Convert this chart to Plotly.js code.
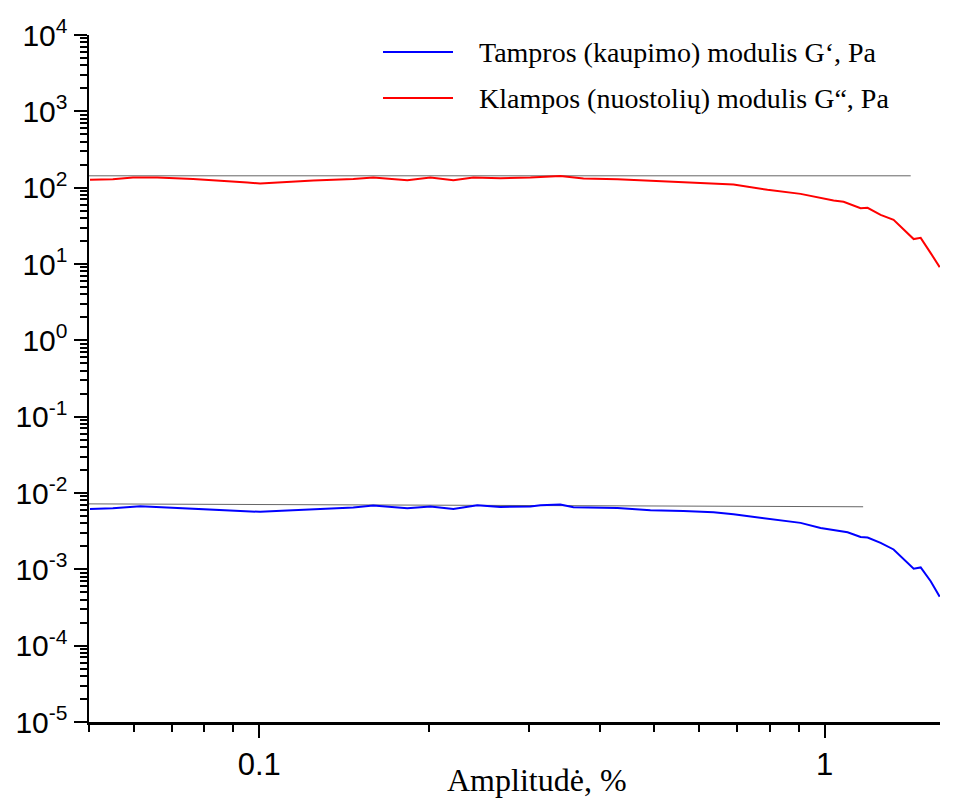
<!DOCTYPE html>
<html>
<head>
<meta charset="utf-8">
<script src="https://cdn.plot.ly/plotly-3.0.1.min.js"></script>
<style>
html,body{margin:0;padding:0;background:#fff;}
#chart{width:963px;height:800px;}
</style>
</head>
<body>
<div id="chart"></div>
<script>
// Storage modulus G' (blue)
const gpX = [0.0502, 0.0551, 0.0616, 0.0705, 0.0786, 0.0888, 0.1004, 0.1121, 0.1247, 0.1467, 0.1591, 0.1828, 0.2008, 0.2205, 0.2431, 0.2670, 0.3018, 0.3143, 0.3409, 0.3596, 0.4302, 0.4920, 0.5628, 0.6362, 0.6901, 0.7925, 0.9068, 0.9838, 1.0982, 1.1580, 1.1914, 1.2563, 1.3245, 1.4373, 1.4790, 1.5405, 1.5980];
const gpY = [0.00619, 0.00631, 0.00670, 0.00638, 0.00619, 0.00589, 0.00566, 0.00589, 0.00612, 0.00644, 0.00684, 0.00631, 0.00664, 0.00619, 0.00690, 0.00658, 0.00664, 0.00690, 0.00705, 0.00650, 0.00638, 0.00594, 0.00583, 0.00558, 0.00526, 0.00458, 0.00406, 0.00349, 0.00306, 0.00266, 0.00261, 0.00222, 0.00182, 0.00102, 0.00106, 0.000699, 0.000437];
// Loss modulus G'' (red)
const gppX = [0.0502, 0.0551, 0.0598, 0.0660, 0.0764, 0.0878, 0.0953, 0.1004, 0.1121, 0.1247, 0.1467, 0.1591, 0.1828, 0.2008, 0.2205, 0.2392, 0.2670, 0.3018, 0.3409, 0.3746, 0.4302, 0.4920, 0.5628, 0.6033, 0.6901, 0.7925, 0.9068, 1.0373, 1.0805, 1.1580, 1.1914, 1.2563, 1.3245, 1.4373, 1.4790, 1.5405, 1.5980];
const gppY = [126.5, 129, 135.6, 135.6, 130.3, 122.7, 116.6, 113.2, 119.1, 123.8, 130.3, 135.6, 125.4, 135.6, 125.4, 135.6, 133.1, 135.6, 142.6, 131.6, 129, 123.8, 119.1, 116.6, 109.8, 93.6, 82.9, 67.8, 65.2, 53.9, 54.4, 44.1, 37.9, 21.2, 22.0, 13.9, 9.1];
// Reference (plateau) lines
const refGpX = [0.05, 1.17];
const refGpY = [0.0072, 0.0066];
const refGppX = [0.05, 1.42];
const refGppY = [143, 143];

const seriesNames = ["Tampros (kaupimo) modulis G‘, Pa", "Klampos (nuostolių) modulis G“, Pa"];
const seriesColors = ["#0000ff", "#ff0000"];

const xTickVals = [0.1, 1];
const xTickText = ["0.1", "1"];
const yTickVals = [1e-5, 1e-4, 1e-3, 1e-2, 1e-1, 1, 10, 100, 1000, 10000];
const yTickText = ["10<sup>-5</sup>", "10<sup>-4</sup>", "10<sup>-3</sup>", "10<sup>-2</sup>", "10<sup>-1</sup>", "10<sup>0</sup>", "10<sup>1</sup>", "10<sup>2</sup>", "10<sup>3</sup>", "10<sup>4</sup>"];
const xTitle = "Amplitudė, %";

const traces = [
  {x: refGppX, y: refGppY, mode: 'lines', line: {color: '#666666', width: 1}, showlegend: false, hoverinfo: 'skip'},
  {x: refGpX, y: refGpY, mode: 'lines', line: {color: '#666666', width: 1}, showlegend: false, hoverinfo: 'skip'},
  {x: gpX, y: gpY, mode: 'lines', name: seriesNames[0], line: {color: seriesColors[0], width: 2}, showlegend: false},
  {x: gppX, y: gppY, mode: 'lines', name: seriesNames[1], line: {color: seriesColors[1], width: 2}, showlegend: false}
];

const W = 963, H = 800;
const L = 89, R = 23, T = 35, B = 78;
const pw = W - L - R, ph = H - T - B;
function px2paperX(p) { return (p - L) / pw; }
function px2paperY(p) { return (H - B - p) / ph; }

const legendRows = [52, 98];
const shapes = [];
const annotations = [];
for (let i = 0; i < 2; i++) {
  shapes.push({type: 'line', xref: 'paper', yref: 'paper',
    x0: px2paperX(383), x1: px2paperX(453), y0: px2paperY(legendRows[i]), y1: px2paperY(legendRows[i]),
    line: {color: seriesColors[i], width: 2}});
  annotations.push({xref: 'paper', yref: 'paper', x: px2paperX(477), y: px2paperY(legendRows[i]),
    xanchor: 'left', yanchor: 'middle', showarrow: false, text: seriesNames[i],
    font: {family: 'Liberation Serif, Times New Roman, serif', size: 28, color: '#000'}});
}
annotations.push({xref: 'paper', yref: 'paper', x: px2paperX(537), y: px2paperY(780),
  xanchor: 'center', yanchor: 'middle', showarrow: false, text: xTitle,
  font: {family: 'Liberation Serif, Times New Roman, serif', size: 32, color: '#000'}});

const layout = {
  width: W, height: H,
  margin: {l: L, r: R, t: T, b: B, pad: 0},
  paper_bgcolor: '#fff', plot_bgcolor: '#fff',
  showlegend: false,
  font: {family: 'Liberation Sans, Arial, sans-serif', size: 30, color: '#000'},
  xaxis: {
    type: 'log', range: [Math.log10(0.05), Math.log10(1.6)],
    tickmode: 'array', tickvals: xTickVals, ticktext: xTickText,
    ticks: 'outside', ticklen: 13, tickwidth: 2, tickcolor: '#000',
    showline: true, linecolor: '#000', linewidth: 2.5, mirror: false,
    showgrid: false, zeroline: false,
    minor: {ticks: 'outside', ticklen: 7, tickwidth: 2, tickcolor: '#000', dtick: 'D1', showgrid: false},
    tickfont: {size: 31}
  },
  yaxis: {
    type: 'log', range: [-5, 4],
    tickmode: 'array', tickvals: yTickVals, ticktext: yTickText,
    ticks: 'outside', ticklen: 13, tickwidth: 2, tickcolor: '#000',
    showline: true, linecolor: '#000', linewidth: 2.5, mirror: false,
    showgrid: false, zeroline: false,
    minor: {ticks: 'outside', ticklen: 7, tickwidth: 2, tickcolor: '#000', dtick: 'D1', showgrid: false},
    tickfont: {size: 30}
  },
  shapes: shapes,
  annotations: annotations
};

Plotly.newPlot('chart', traces, layout, {displayModeBar: false, staticPlot: true});
</script>
</body>
</html>
